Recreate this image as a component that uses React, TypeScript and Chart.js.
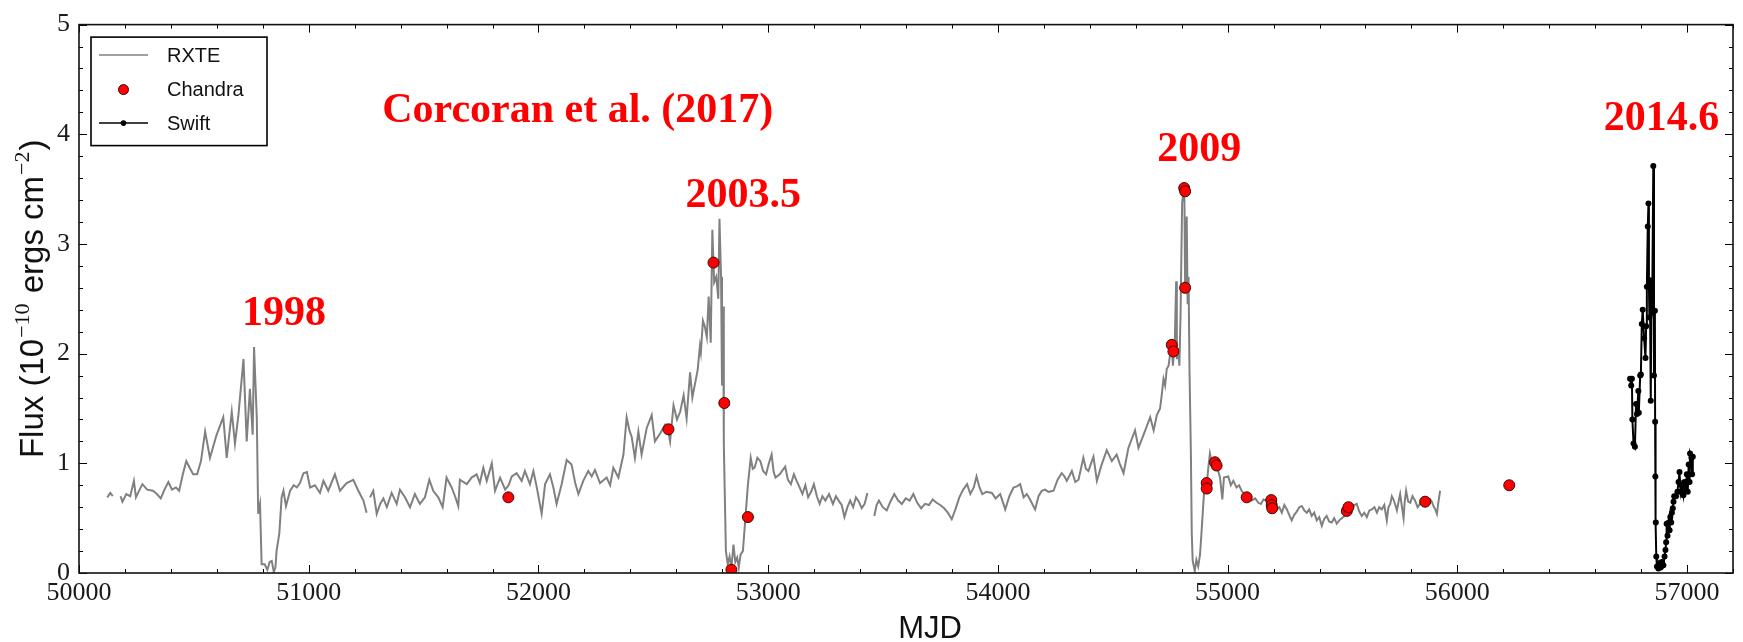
import React, { useEffect, useRef } from 'react';
import { Chart, registerables } from 'chart.js';
Chart.register(...registerables);

// ---- RXTE light curve (MJD, flux in 1e-10 erg/s/cm^2); null = data gap ----
const RXTE_MJD = [
  50123, 50136, 50147, 50160, 50181, 50189, 50206, 50223, 50239, 50248, 50264, 50276, 50297, 50322, 50339, 50356,
  50372, 50389, 50405, 50422, 50436, 50452, 50467, 50484, 50497, 50514, 50531, 50549, 50570, 50599, 50628, 50643,
  50665, 50679, 50694, 50716, 50730, 50744, 50756, 50762, 50774, 50780, 50788, 50795, 50808, 50820, 50830, 50839,
  50848, 50855, 50860, 50872, 50882, 50890, 50901, 50919, 50935, 50948, 50962, 50977, 50992, 51006, 51027, 51049,
  51064, 51085, 51114, 51136, 51165, 51194, 51216, 51238, 51252, 51260, 51267, 51281, 51296, 51311, 51325, 51340,
  51361, 51383, 51397, 51419, 51441, 51462, 51484, 51506, 51525, 51542, 51564, 51583, 51600, 51622, 51637, 51651,
  51658, 51688, 51709, 51731, 51745, 51760, 51775, 51797, 51811, 51833, 51855, 51870, 51884, 51905, 51927, 51941,
  51963, 51978, 51992, 52014, 52029, 52050, 52065, 52079, 52101, 52123, 52144, 52160, 52174, 52195, 52217, 52232,
  52246, 52268, 52297, 52312, 52326, 52348, 52370, 52384, 52396, 52406, 52420, 52435, 52449, 52471, 52493, 52507,
  52529, 52551, 52566, 52573, 52588, 52603, 52617, 52632, 52645, 52660, 52670, 52681, 52693, 52703, 52707, 52716,
  52724, 52733, 52741, 52750, 52757, 52765, 52774, 52783, 52788, 52795, 52799, 52804, 52807, 52816, 52824, 52832,
  52840, 52849, 52857, 52865, 52872, 52880, 52890, 52899, 52912, 52924, 52933, 52941, 52953, 52966, 52978, 52991,
  53003, 53015, 53024, 53032, 53050, 53074, 53086, 53099, 53112, 53124, 53137, 53149, 53162, 53174, 53187, 53199,
  53212, 53224, 53236, 53249, 53265, 53282, 53295, 53307, 53320, 53332, 53345, 53357, 53370, 53382, 53395, 53407,
  53420, 53432, 53447, 53462, 53472, 53482, 53499, 53516, 53532, 53549, 53566, 53582, 53599, 53616, 53632, 53649,
  53666, 53683, 53700, 53716, 53733, 53749, 53766, 53782, 53799, 53815, 53832, 53849, 53866, 53880, 53895, 53907,
  53920, 53932, 53950, 53974, 53990, 54010, 54032, 54050, 54068, 54083, 54097, 54112, 54126, 54140, 54162, 54177,
  54191, 54205, 54220, 54242, 54260, 54278, 54290, 54300, 54322, 54337, 54351, 54372, 54383, 54394, 54416, 54431,
  54452, 54474, 54496, 54517, 54530, 54547, 54568, 54597, 54612, 54634, 54663, 54678, 54692, 54706, 54713, 54721,
  54728, 54735, 54743, 54750, 54757, 54762, 54770, 54776, 54779, 54785, 54790, 54795, 54802, 54808, 54812, 54815,
  54818, 54822, 54826, 54830, 54834, 54840, 54844, 54848, 54857, 54864, 54872, 54880, 54887, 54895, 54902, 54909,
  54916, 54923, 54930, 54945, 54952, 54959, 54967, 54977, 54984, 55003, 55014, 55025, 55039, 55050, 55061, 55072,
  55083, 55094, 55105, 55120, 55134, 55145, 55156, 55170, 55181, 55192, 55203, 55214, 55225, 55236, 55247, 55258,
  55268, 55279, 55290, 55301, 55312, 55323, 55334, 55345, 55355, 55366, 55377, 55388, 55399, 55410, 55420, 55431,
  55442, 55453, 55464, 55475, 55486, 55497, 55508, 55519, 55530, 55540, 55551, 55562, 55573, 55584, 55595, 55606,
  55617, 55628, 55639, 55650, 55660, 55671, 55682, 55693, 55700, 55708, 55715, 55722, 55730, 55737, 55744, 55751,
  55759, 55766, 55771, 55777, 55786, 55795, 55805, 55816, 55827, 55838, 55849, 55860, 55871, 55882, 55889, 55896,
  55904, 55911, 55918, 55925,
];
const RXTE_FLUX = [
  0.69, 0.73, 0.70, null, 0.70, 0.65, 0.72, 0.70, 0.84, 0.69, 0.76, 0.81, 0.76, 0.75, 0.72, 0.68,
  0.76, 0.83, 0.76, 0.78, 0.75, 0.90, 1.02, 0.95, 0.90, 0.90, 1.02, 1.29, 1.05, 1.26, 1.42, 1.05,
  1.47, 1.18, 1.44, 1.95, 1.20, 1.68, 1.26, 2.06, 1.41, 0.54, 0.63, 0.08, 0.08, 0.03, 0.10, 0.11,
  0.01, 0.05, 0.20, 0.36, 0.69, 0.75, 0.61, 0.75, 0.80, 0.78, 0.82, 0.91, 0.92, 0.78, 0.80, 0.73,
  0.84, 0.75, 0.90, 0.75, 0.82, 0.85, 0.75, 0.66, 0.55, null, 0.69, 0.75, 0.54, 0.63, 0.68, 0.60,
  0.73, 0.63, 0.76, 0.69, 0.60, 0.72, 0.63, 0.69, 0.85, 0.75, 0.69, 0.60, 0.87, 0.78, 0.70, 0.61,
  0.85, 0.81, 0.87, 0.90, 0.82, 0.96, 0.84, 1.00, 0.75, 0.87, 0.76, 0.80, 0.88, 0.91, 0.84, 0.93,
  0.81, 0.93, 0.79, 0.54, 0.81, 0.90, 0.78, 0.63, 0.81, 1.03, 0.99, 0.82, 0.72, 0.84, 0.93, 0.88,
  0.94, 0.82, 0.87, 0.80, 0.96, 0.87, 1.08, 1.42, 1.30, 1.24, 1.05, 1.29, 1.08, 1.32, 1.44, 1.20,
  1.27, 1.35, 1.28, 1.20, 1.53, 1.40, 1.47, 1.62, 1.41, 1.83, 1.60, 1.72, 1.85, 2.07, 2.01, 2.30,
  2.25, 2.15, 2.52, 2.10, 3.13, 2.65, 2.70, 2.50, 3.23, 2.70, 1.71, 2.43, 1.17, 0.20, 0.08, 0.15,
  0.05, 0.26, 0.10, 0.14, 0.05, 0.17, 0.20, 0.45, 0.81, 1.05, 0.95, 0.96, 1.05, 1.02, 0.93, 0.90,
  1.00, 1.08, 0.92, 0.87, 0.90, 0.97, 0.85, 0.81, 0.90, 0.84, 0.78, 0.72, 0.80, 0.69, 0.74, 0.81,
  0.70, 0.63, 0.70, 0.66, 0.72, 0.63, 0.70, 0.66, 0.62, 0.51, 0.60, 0.66, 0.60, 0.69, 0.65, 0.59,
  0.63, 0.73, null, 0.52, 0.62, 0.66, 0.60, 0.57, 0.65, 0.72, 0.66, 0.63, 0.68, 0.66, 0.72, 0.64,
  0.59, 0.63, 0.62, 0.67, 0.64, 0.62, 0.59, 0.55, 0.49, 0.58, 0.69, 0.76, 0.81, 0.72, 0.78, 0.88,
  0.78, 0.72, 0.74, 0.73, 0.68, 0.72, 0.58, 0.70, 0.78, 0.79, 0.81, 0.69, 0.72, 0.67, 0.58, 0.70,
  0.75, 0.76, 0.74, 0.75, 0.85, 0.91, 0.88, 0.84, 0.93, 0.83, 0.85, 1.05, 0.95, 0.93, 1.06, 0.84,
  0.99, 1.12, 1.02, 1.08, 1.00, 0.91, 1.14, 1.30, 1.14, 1.26, 1.42, 1.30, 1.44, 1.50, 1.62, 1.77,
  1.71, 1.86, 1.89, 2.00, 2.05, 1.89, 2.10, 2.66, 1.95, 2.05, 1.89, 2.34, 3.37, 3.49, 3.40, 2.60,
  2.90, 3.25, 2.45, 2.70, 1.86, 1.11, 0.36, 0.11, 0.02, 0.12, 0.06, 0.17, 0.39, 0.66, 0.84, 0.80,
  0.96, 1.09, 1.02, 1.00, 0.98, 0.93, 0.87, 0.67, 0.87, 0.88, 0.80, 0.84, 0.78, 0.80, 0.75, 0.72,
  0.70, 0.68, 0.66, 0.68, 0.64, 0.63, 0.67, 0.66, 0.62, 0.62, 0.60, 0.58, 0.60, 0.55, 0.62, 0.58,
  0.53, 0.48, 0.53, 0.56, 0.60, 0.61, 0.57, 0.55, 0.58, 0.52, 0.55, 0.48, 0.51, 0.43, 0.49, 0.52,
  0.47, 0.46, 0.50, 0.45, 0.48, 0.50, 0.52, 0.55, 0.60, 0.58, 0.62, 0.63, 0.56, 0.52, 0.55, 0.51,
  0.57, 0.58, 0.60, 0.55, 0.60, 0.58, 0.62, 0.48, 0.60, 0.63, 0.70, 0.67, 0.62, 0.57, 0.65, 0.72,
  0.60, 0.50, 0.65, 0.75, 0.65, 0.64, 0.70, 0.66, 0.60, 0.63, 0.68, 0.64, 0.62, 0.67, 0.65, 0.61,
  0.58, 0.54, 0.65, 0.75,
];

// ---- Chandra observations ----
const CHANDRA_MJD = [
  51869, 52566, 52762, 52809, 52840, 52912, 54757, 54764, 54811, 54815, 54815, 54909,
  54909, 54945, 54952, 55083, 55190, 55192, 55194, 55519, 55526, 55860, 56226,
];
const CHANDRA_FLUX = [
  0.69, 1.31, 2.83, 1.55, 0.03, 0.51, 2.08, 2.02, 3.51, 3.48, 2.60, 0.82,
  0.77, 1.01, 0.98, 0.69, 0.665, 0.62, 0.59, 0.566, 0.60, 0.65, 0.80,
];

// ---- Swift monitoring ----
const SWIFT_MJD = [
  56752, 56757, 56760, 56762, 56767, 56773, 56778, 56782, 56788, 56790, 56796, 56799, 56803, 56807, 56813, 56819,
  56822, 56825, 56829, 56832, 56834, 56836, 56838, 56842, 56845, 56848, 56853, 56856, 56860, 56861, 56862, 56864,
  56866, 56869, 56875, 56879, 56885, 56891, 56897, 56902, 56906, 56909, 56911, 56915, 56920, 56924, 56927, 56931,
  56934, 56938, 56941, 56944, 56952, 56958, 56963, 56967, 56972, 56977, 56984, 56989, 56993, 56999, 57003, 57007,
  57011, 57013, 57019, 57022, 57025,
];
const SWIFT_FLUX = [
  1.77, 1.71, 1.77, 1.40, 1.18, 1.15, 1.54, 1.45, 1.66, 1.46, 1.80, 1.81, 2.27, 2.40, 2.14, 1.96,
  2.25, 2.61, 3.16, 3.37, 2.63, 2.33, 2.67, 1.57, 2.65, 2.37, 3.71, 1.80, 2.39, 1.38, 0.88, 0.46,
  0.15, 0.06, 0.04, 0.09, 0.05, 0.10, 0.07, 0.15, 0.21, 0.28, 0.45, 0.34, 0.46, 0.39, 0.51, 0.46,
  0.55, 0.59, 0.65, 0.70, 0.70, 0.74, 0.83, 0.92, 0.74, 0.80, 0.71, 0.83, 0.75, 0.90, 0.74, 0.99,
  0.83, 1.09, 1.05, 0.90, 1.06,
];

// ---- axes ----
const X_TICKS = [50000, 51000, 52000, 53000, 54000, 55000, 56000, 57000];
const X_TICK_LABELS = ['50000', '51000', '52000', '53000', '54000', '55000', '56000', '57000'];
const Y_TICKS = [0, 1, 2, 3, 4, 5];
const Y_TICK_LABELS = ['0', '1', '2', '3', '4', '5'];
const X_MIN = 50000;
const X_MAX = 57200;
const X_MINOR_STEP = 200;
const Y_MINOR_STEP = 0.2;

// ---- annotations (anchored in data coordinates: centre x, baseline y) ----
const NOTE_TEXT = ['Corcoran et al. (2017)', '1998', '2003.5', '2009', '2014.6'];
const NOTE_MJD = [52171, 50892, 52891, 54876, 56889];
const NOTE_FLUX = [4.11, 2.26, 3.34, 3.76, 4.04];

const SANS = '"Liberation Sans", Arial, sans-serif';
const SERIF = '"Liberation Serif", "Times New Roman", serif';

const framePlugin = {
  id: 'frameTicks',
  afterDatasetsDraw(chart: any) {
    const { ctx, chartArea } = chart;
    const { left, right, top, bottom } = chartArea;
    const xs = chart.scales.x;
    const ys = chart.scales.y;
    ctx.save();
    ctx.strokeStyle = '#000';
    ctx.lineWidth = 1;
    const isMajor = (v: number, arr: number[]) => arr.some((t) => Math.abs(t - v) < 1e-6);
    ctx.beginPath();
    for (let v = X_MIN; v <= X_MAX + 1e-6; v += X_MINOR_STEP) {
      const len = isMajor(v, X_TICKS) ? 8 : 4;
      const px = Math.round(xs.getPixelForValue(v)) + 0.5;
      ctx.moveTo(px, bottom); ctx.lineTo(px, bottom - len);
      ctx.moveTo(px, top); ctx.lineTo(px, top + len);
    }
    for (let i = 0; i <= 25; i++) {
      const v = Math.round(i * Y_MINOR_STEP * 10) / 10;
      const len = isMajor(v, Y_TICKS) ? 8 : 4;
      const py = Math.round(ys.getPixelForValue(v)) + 0.5;
      ctx.moveTo(left, py); ctx.lineTo(left + len, py);
      ctx.moveTo(right, py); ctx.lineTo(right - len, py);
    }
    ctx.stroke();
    ctx.lineWidth = 1.6;
    ctx.strokeStyle = '#111';
    ctx.strokeRect(left, top, right - left, bottom - top);
    ctx.restore();
  },
  afterDraw(chart: any) {
    const { ctx, chartArea } = chart;
    const xs = chart.scales.x;
    const ys = chart.scales.y;
    ctx.save();
    // annotations
    ctx.fillStyle = '#ff0000';
    ctx.font = `bold 42px ${SERIF}`;
    ctx.textAlign = 'center';
    ctx.textBaseline = 'alphabetic';
    NOTE_TEXT.forEach((t, i) => {
      ctx.fillText(t, xs.getPixelForValue(NOTE_MJD[i]), ys.getPixelForValue(NOTE_FLUX[i]));
    });

    // legend
    const lx = chartArea.left + 12;
    const ly = chartArea.top + 12.5;
    const lw = 176;
    const lh = 108.5;
    ctx.fillStyle = '#fff';
    ctx.fillRect(lx, ly, lw, lh);
    ctx.strokeStyle = '#000';
    ctx.lineWidth = 1.6;
    ctx.strokeRect(lx, ly, lw, lh);
    const ds = chart.data.datasets;
    const rows = [ly + 18, ly + 52.5, ly + 86];
    const hx0 = lx + 8;
    const hx1 = lx + 57;
    const hc = (hx0 + hx1) / 2;
    ctx.font = `20px ${SANS}`;
    ctx.textAlign = 'left';
    ctx.textBaseline = 'middle';
    ctx.strokeStyle = ds[0].borderColor;
    ctx.lineWidth = 1.5;
    ctx.beginPath(); ctx.moveTo(hx0, rows[0]); ctx.lineTo(hx1, rows[0]); ctx.stroke();
    ctx.fillStyle = ds[1].backgroundColor;
    ctx.strokeStyle = ds[1].borderColor;
    ctx.lineWidth = 1;
    ctx.beginPath(); ctx.arc(hc, rows[1], 5, 0, Math.PI * 2); ctx.fill(); ctx.stroke();
    ctx.strokeStyle = ds[2].borderColor;
    ctx.fillStyle = ds[2].backgroundColor;
    ctx.lineWidth = 1.5;
    ctx.beginPath(); ctx.moveTo(hx0, rows[2]); ctx.lineTo(hx1, rows[2]); ctx.stroke();
    ctx.beginPath(); ctx.arc(hc, rows[2], 2.8, 0, Math.PI * 2); ctx.fill();
    ctx.fillStyle = '#111';
    ds.forEach((d: any, i: number) => ctx.fillText(d.label, lx + 76, rows[i] + 1));

    // x axis title
    ctx.fillStyle = '#111';
    ctx.font = `31px ${SANS}`;
    ctx.textAlign = 'center';
    ctx.textBaseline = 'alphabetic';
    ctx.fillText('MJD', 930, 638);

    // y axis title with superscripts
    const pieces: [string, boolean][] = [
      ['Flux (10', false], ['\u221210', true], [' ergs cm', false], ['\u22122', true], [')', false],
    ];
    const mainFont = `33px ${SANS}`;
    const supFont = `22px ${SERIF}`;
    let total = 0;
    const widths = pieces.map(([t, sup]) => {
      ctx.font = sup ? supFont : mainFont;
      const w = ctx.measureText(t).width + (sup ? 2 : 0);
      total += w;
      return w;
    });
    ctx.translate(43, (chartArea.top + chartArea.bottom) / 2);
    ctx.rotate(-Math.PI / 2);
    ctx.textAlign = 'left';
    let cx = -total / 2;
    pieces.forEach(([t, sup], i) => {
      ctx.font = sup ? supFont : mainFont;
      ctx.fillText(t, cx + (sup ? 1 : 0), sup ? -14 : 0);
      cx += widths[i];
    });
    ctx.restore();
  },
};

export default function App() {
  const ref = useRef<HTMLCanvasElement>(null);
  useEffect(() => {
    document.body.style.margin = '0';
    document.body.style.overflow = 'hidden';
    const canvas = ref.current;
    if (!canvas) return;
    const rxte = RXTE_MJD.map((x, i) => ({ x, y: RXTE_FLUX[i] }));
    const chandra = CHANDRA_MJD.map((x, i) => ({ x, y: CHANDRA_FLUX[i] }));
    const swift = SWIFT_MJD.map((x, i) => ({ x, y: SWIFT_FLUX[i] }));
    const chart = new Chart(canvas, {
      type: 'line',
      data: {
        datasets: [
          {
            label: 'RXTE', data: rxte as any, borderColor: '#808080', backgroundColor: '#808080',
            borderWidth: 2, pointRadius: 0, spanGaps: false, tension: 0, order: 3,
          },
          {
            label: 'Chandra', data: chandra as any, showLine: false, backgroundColor: '#ff0000',
            borderColor: '#3b0a0a', borderWidth: 1, pointRadius: 5.5, order: 1,
          },
          {
            label: 'Swift', data: swift as any, borderColor: '#000', backgroundColor: '#000',
            borderWidth: 2, pointRadius: 3, pointBorderWidth: 0, tension: 0, order: 2,
          },
        ],
      },
      options: {
        animation: false,
        responsive: false,
        devicePixelRatio: 1,
        events: [],
        layout: { padding: { left: 0, right: 10, top: 20, bottom: 0 } },
        plugins: { legend: { display: false }, tooltip: { enabled: false } },
        scales: {
          x: {
            type: 'linear', min: X_MIN, max: X_MAX,
            grid: { display: false, drawTicks: false }, border: { display: false },
            ticks: {
              padding: 5, color: '#1a1a1a', font: { family: SERIF, size: 26 },
              maxRotation: 0, autoSkip: false,
              callback: (v: any) => { const i = X_TICKS.indexOf(Number(v)); return i >= 0 ? X_TICK_LABELS[i] : ''; },
            },
            afterBuildTicks: (s: any) => { s.ticks = X_TICKS.map((value) => ({ value })); },
            afterFit: (s: any) => { s.height = 69; },
          },
          y: {
            type: 'linear', min: 0, max: 5,
            grid: { display: false, drawTicks: false }, border: { display: false },
            ticks: {
              padding: 9, color: '#1a1a1a', font: { family: SERIF, size: 26 },
              callback: (v: any) => { const i = Y_TICKS.indexOf(Number(v)); return i >= 0 ? Y_TICK_LABELS[i] : ''; },
            },
            afterBuildTicks: (s: any) => { s.ticks = Y_TICKS.map((value) => ({ value })); },
            afterFit: (s: any) => { s.width = 79; },
          },
        },
      } as any,
      plugins: [framePlugin],
    });
    return () => chart.destroy();
  }, []);
  return (
    <div style={{ width: 1743, height: 642, background: '#fff' }}>
      <canvas ref={ref} width={1743} height={642} style={{ display: 'block' }} />
    </div>
  );
}
